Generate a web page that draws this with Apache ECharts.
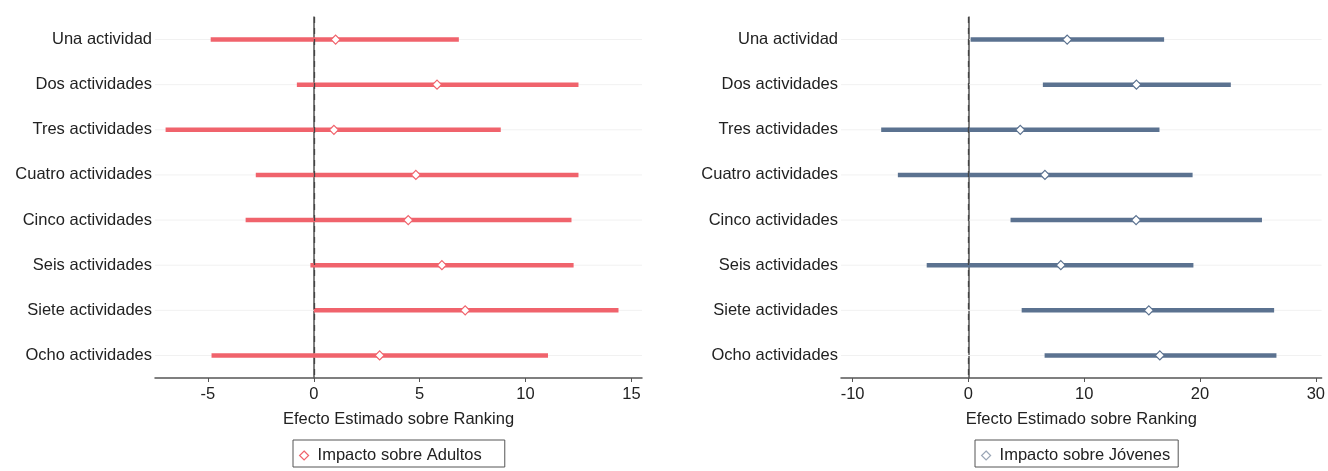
<!DOCTYPE html>
<html>
<head>
<meta charset="utf-8">
<script src="https://cdn.jsdelivr.net/npm/echarts@6/dist/echarts.min.js"></script>
<style>
html,body{margin:0;padding:0;background:#fff;}
#chart{width:1328px;height:471px;}
</style>
</head>
<body>
<div id="chart"></div>
<script>
const categories = ['Una actividad','Dos actividades','Tres actividades','Cuatro actividades','Cinco actividades','Seis actividades','Siete actividades','Ocho actividades'];
const adultsLow  = [-4.87, -0.8, -7.0, -2.74, -3.22, -0.16, 0.0, -4.83];
const adultsEst  = [1.03, 5.82, 0.95, 4.82, 4.46, 6.05, 7.15, 3.11];
const adultsHigh = [6.85, 12.5, 8.83, 12.5, 12.17, 12.27, 14.39, 11.06];
const youthLow   = [0.19, 6.43, -7.53, -6.09, 3.64, -3.6, 4.6, 6.58];
const youthEst   = [8.53, 14.51, 4.48, 6.61, 14.48, 7.98, 15.58, 16.53];
const youthHigh  = [16.9, 22.66, 16.5, 19.36, 25.35, 19.43, 26.4, 26.6];
const adultTicks = [-5, 0, 5, 10, 15];
const youthTicks = [-10, 0, 10, 20, 30];
const axisTitle = 'Efecto Estimado sobre Ranking';
const adultName = 'Impacto sobre Adultos';
const youthName = 'Impacto sobre Jóvenes';

const RED = '#f0636c';
const BLUE = '#5b7290';
const FONT = 'Liberation Sans, Arial, sans-serif';
const TXT = '#222';
const FS = 16.5;

const chart = echarts.init(document.getElementById('chart'));

function intervalData(lo, hi) {
  return categories.map((c, i) => [i, lo[i], hi[i]]);
}
function renderInterval(color) {
  return function (params, api) {
    const idx = api.value(0);
    const p1 = api.coord([api.value(1), idx]);
    const p2 = api.coord([api.value(2), idx]);
    const cs = params.coordSys;
    return {
      type: 'group',
      children: [
        { type: 'line', shape: { x1: cs.x, y1: p1[1], x2: cs.x + cs.width, y2: p1[1] },
          style: { stroke: '#f1f1f1', lineWidth: 1 }, z2: 0 },
        { type: 'line', shape: { x1: p1[0], y1: p1[1], x2: p2[0], y2: p2[1] },
          style: { stroke: color, lineWidth: 4.5 }, z2: 5 }
      ]
    };
  };
}

function xAxisCfg(gi, min, max, ticks) {
  return {
    type: 'value', gridIndex: gi, min: min, max: max,
    name: axisTitle, nameLocation: 'middle', nameGap: 33,
    nameTextStyle: { fontFamily: FONT, fontSize: FS, color: TXT },
    axisLine: { show: true, lineStyle: { color: '#555', width: 1.5 } },
    axisTick: { show: true, customValues: ticks, length: 4, lineStyle: { color: '#555' } },
    axisLabel: { customValues: ticks, fontFamily: FONT, fontSize: FS, color: TXT, margin: 8 },
    splitLine: { show: false }
  };
}
function yAxisCfg(gi) {
  return {
    type: 'category', gridIndex: gi, data: categories, inverse: true,
    axisLine: { show: true, lineStyle: { color: '#555', width: 1.5 } },
    axisTick: { show: false },
    axisLabel: { fontFamily: FONT, fontSize: FS, color: TXT, margin: 3 },
    splitLine: { show: false }
  };
}
function legendCfg(name, left, border, padRight) {
  return {
    data: [{ name: name, icon: 'diamond', itemStyle: { color: '#fff', borderColor: border, borderWidth: 1.2 } }],
    left: left, top: 440, itemWidth: 9, itemHeight: 9, itemGap: 5,
    padding: [7, padRight, 3, 6], borderColor: '#555', borderWidth: 1, borderRadius: 0,
    textStyle: { fontFamily: FONT, fontSize: FS, color: TXT, padding: [0, 0, 0, 4] }
  };
}

const option = {
  animation: false,
  backgroundColor: '#fff',
  grid: [
    { left: 155, top: 17, width: 487, height: 361 },
    { left: 841, top: 17, width: 482, height: 361 }
  ],
  xAxis: [ xAxisCfg(0, -7.5, 15.5, adultTicks), xAxisCfg(1, -11, 30.5, youthTicks) ],
  yAxis: [ yAxisCfg(0), yAxisCfg(1) ],
  legend: [ legendCfg(adultName, 293, RED, 23), legendCfg(youthName, 975, '#9aa6b6', 8) ],
  series: [
    { type: 'custom', xAxisIndex: 0, yAxisIndex: 0, data: intervalData(adultsLow, adultsHigh),
      encode: { x: [1, 2], y: 0 }, renderItem: renderInterval(RED), silent: true, z: 2 },
    { type: 'custom', xAxisIndex: 1, yAxisIndex: 1, data: intervalData(youthLow, youthHigh),
      encode: { x: [1, 2], y: 0 }, renderItem: renderInterval(BLUE), silent: true, z: 2 },
    { name: adultName, type: 'scatter', xAxisIndex: 0, yAxisIndex: 0,
      data: categories.map((c, i) => [adultsEst[i], i]),
      symbol: 'diamond', symbolSize: 9,
      itemStyle: { color: '#fff', borderColor: RED, borderWidth: 1.2, opacity: 1 }, z: 4,
      markLine: { silent: true, symbol: 'none', label: { show: false },
        lineStyle: { color: '#444', type: [6, 5], width: 1.3 },
        data: [{ xAxis: 0 }] } },
    { name: youthName, type: 'scatter', xAxisIndex: 1, yAxisIndex: 1,
      data: categories.map((c, i) => [youthEst[i], i]),
      symbol: 'diamond', symbolSize: 9,
      itemStyle: { color: '#fff', borderColor: BLUE, borderWidth: 1.2, opacity: 1 }, z: 4,
      markLine: { silent: true, symbol: 'none', label: { show: false },
        lineStyle: { color: '#444', type: [6, 5], width: 1.3 },
        data: [{ xAxis: 0 }] } }
  ]
};
chart.setOption(option);
</script>
</body>
</html>
